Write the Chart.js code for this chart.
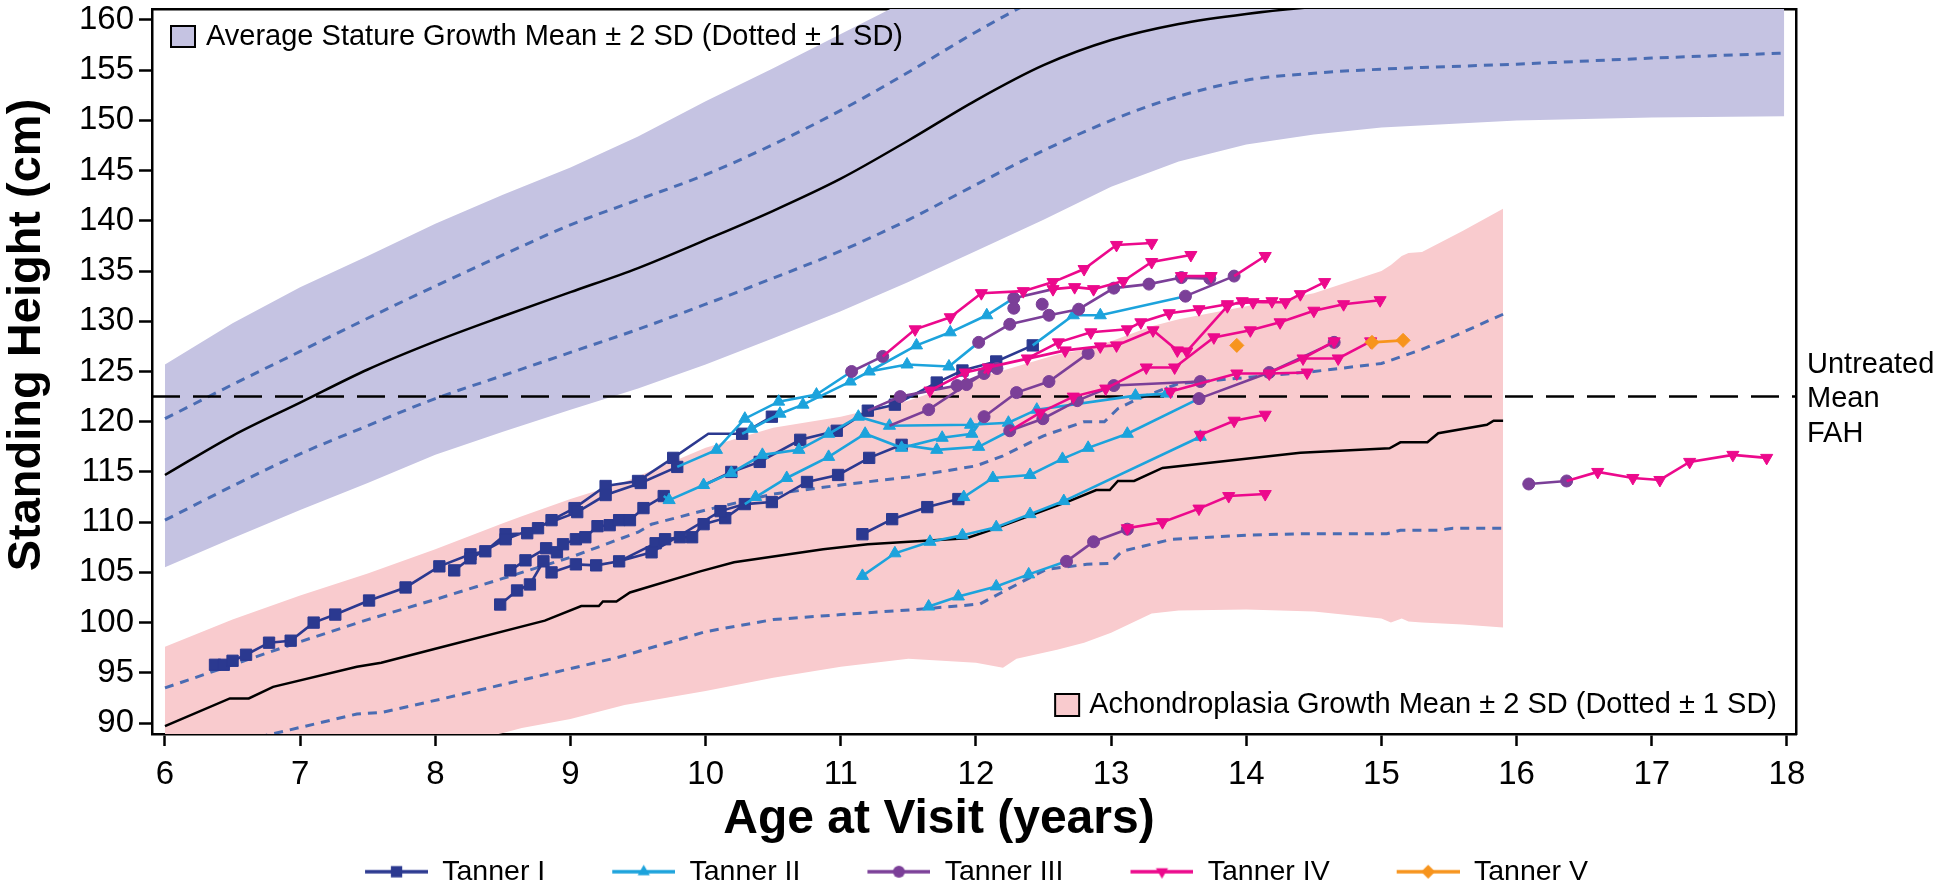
<!DOCTYPE html>
<html>
<head>
<meta charset="utf-8">
<script src="https://cdn.jsdelivr.net/npm/chart.js@4.4.1/dist/chart.umd.min.js"></script>
<style>
  html, body { margin: 0; padding: 0; background: #fff; }
</style>
</head>
<body>
<canvas id="growth" width="1939" height="890"></canvas>
<script>
// ---------- axes ----------
const xMin = 5.904, xMax = 18.067;
const yMin = 88.91, yMax = 161.09;
const xTicks = [6, 7, 8, 9, 10, 11, 12, 13, 14, 15, 16, 17, 18];
const yTicks = [90, 95, 100, 105, 110, 115, 120, 125, 130, 135, 140, 145, 150, 155, 160];
const fahHeight = 122.5;

// ---------- average stature reference (mean, +-1 SD, +-2 SD) ----------
const avgAge   = [6, 6.5, 7, 7.5, 8, 8.5, 9, 9.5, 10, 10.5, 11, 11.5, 12, 12.5, 13, 13.5, 14, 14.5, 15, 16, 17, 17.98];
const avgHigh2 = [125.7, 129.8, 133.4, 136.5, 139.7, 142.6, 145.3, 148.4, 151.9, 155.2, 158.6, 162.0, 165.0, 167.8, 169.7, 171.0, 172.0, 172.5, 173.0, 173.3, 173.5, 173.5];
const avgHigh1 = [120.3, 123.7, 127.0, 130.3, 133.5, 136.6, 139.6, 142.1, 144.6, 147.6, 151.0, 154.8, 158.8, 162.4, 165.2, 167.0, 168.2, 168.9, 169.3, 169.7, 169.9, 170.0];
const avgMean  = [114.7, 118.6, 121.9, 125.2, 128.0, 130.5, 132.9, 135.3, 138.1, 141.0, 144.2, 148.0, 152.0, 155.5, 158.0, 159.6, 160.6, 161.3, 161.8, 162.4, 162.7, 162.8];
const avgLow1  = [110.2, 113.6, 116.8, 119.6, 122.3, 124.6, 126.9, 129.2, 131.7, 134.3, 137.0, 140.1, 143.6, 147.0, 150.0, 152.4, 154.0, 154.7, 155.1, 155.6, 156.2, 156.7];
const avgLow2  = [105.5, 108.4, 111.2, 113.9, 116.7, 119.0, 121.2, 123.3, 125.7, 128.3, 131.0, 133.9, 137.0, 140.1, 143.4, 145.9, 147.6, 148.6, 149.3, 150.0, 150.3, 150.4];

// ---------- achondroplasia reference ----------
const achBandAge = [6, 6.5, 7, 7.5, 8, 8.5, 8.64, 9, 9.4, 10, 10.5, 11, 11.5, 12, 12.2, 12.3, 12.6, 12.8, 13, 13.3, 13.5, 14, 14.5, 15, 15.07, 15.15, 15.2, 15.3, 15.6, 15.9];
const achHigh2 = [97.6, 100.3, 102.7, 104.9, 107.3, 109.9, 110.6, 112.3, 114.0, 117.4, 119.4, 120.5, 122.1, 124.4, 125.1, 125.5, 126.7, 127.2, 128.0, 129.5, 130.2, 131.5, 132.8, 135.0, 135.6, 136.5, 136.8, 136.9, 139.0, 141.2];
const achLow2  = [82.0, 83.5, 85.0, 86.3, 87.6, 89.0, 89.5, 90.4, 91.8, 93.2, 94.5, 95.6, 96.4, 96.0, 95.5, 96.4, 97.3, 98.0, 99.0, 100.9, 101.2, 101.3, 101.1, 100.4, 100.0, 100.4, 100.1, 100.0, 99.8, 99.5];
const achMeanAge = [6, 6.48, 6.62, 6.8, 7.42, 7.6, 8.0, 8.81, 9.08, 9.21, 9.24, 9.34, 9.44, 9.96, 10.21, 10.87, 11.2, 11.93, 12.13, 12.69, 12.89, 12.99, 13.05, 13.17, 13.38, 14.4, 15.06, 15.14, 15.34, 15.42, 15.78, 15.83, 15.9];
const achMean    = [89.7, 92.45, 92.45, 93.6, 95.6, 96.0, 97.4, 100.2, 101.65, 101.65, 102.1, 102.1, 103.0, 105.1, 106.0, 107.3, 107.8, 108.4, 109.3, 112.1, 113.2, 113.2, 114.1, 114.1, 115.4, 116.9, 117.35, 117.95, 117.95, 118.85, 119.7, 120.1, 120.1];
const achHigh1Age = [6, 6.5, 7, 7.5, 8, 8.5, 9, 9.5, 9.6, 10, 10.5, 11, 11.5, 12, 12.2, 12.5, 12.8, 12.95, 13.05, 13.2, 13.5, 14, 14.5, 15, 15.3, 15.55, 15.9];
const achHigh1    = [93.5, 95.8, 98.1, 100.3, 102.3, 104.4, 106.5, 109.0, 109.8, 111.2, 112.8, 113.7, 114.5, 115.6, 116.6, 118.6, 120.0, 120.0, 121.3, 122.3, 123.8, 124.4, 125.0, 125.8, 127.2, 128.6, 130.7];
const achLow1Age = [6, 6.79, 7.42, 7.6, 8.08, 9.34, 9.47, 10, 10.5, 11, 11.6, 12.03, 12.19, 12.36, 12.52, 12.82, 12.99, 13.08, 13.45, 14, 14.4, 15.04, 15.14, 15.43, 15.53, 15.9];
const achLow1    = [86.5, 88.9, 90.9, 91.05, 92.5, 96.5, 97.0, 99.1, 100.3, 100.8, 101.35, 101.85, 103.0, 104.2, 105.3, 105.8, 105.9, 107.1, 108.3, 108.7, 108.85, 108.85, 109.2, 109.2, 109.4, 109.4];

// ---------- patient visits, one list per Tanner stage ----------
// [age, height] ; a third value 0 = joining point carried over from the previous stage (no marker)
const tannerLabels = ['Tanner I', 'Tanner II', 'Tanner III', 'Tanner IV', 'Tanner V'];

const tanner1 = [
  [[6.37,95.8],[6.435,95.8],[6.5,96.2],[6.6,96.8],[6.77,98.0],[6.93,98.2],[7.1,100.0],[7.26,100.8],[7.51,102.2],[7.78,103.5],[8.03,105.6],[8.26,106.8],[8.37,107.1],[8.52,108.8],[8.68,108.9],[8.76,109.4],[8.86,110.2],[9.03,111.4],[9.26,113.6],[9.5,114.1],[9.76,116.4],[10.02,118.8,0],[10.23,118.8,0],[10.27,118.8],[10.49,120.5]],
  [[8.14,105.2],[8.26,106.4],[8.52,108.3],[9.05,111.0],[9.26,112.7],[9.52,113.9],[9.79,115.5]],
  [[8.555,105.2],[8.667,106.2],[8.82,107.4],[8.9,107.0],[8.945,107.8],[9.04,108.3],[9.11,108.5],[9.2,109.6],[9.29,109.7],[9.36,110.2],[9.44,110.2],[9.54,111.4],[9.69,112.6]],
  [[8.48,101.8],[8.605,103.2],[8.7,103.8],[8.8,106.1],[8.86,105.0],[9.04,105.8],[9.19,105.7],[9.36,106.1],[9.63,107.9],[9.7,108.3],[9.81,108.5],[9.9,108.5],[9.985,109.8],[10.145,110.4],[10.29,111.8],[10.49,112.0],[10.75,114.0],[10.98,114.7],[11.21,116.4],[11.45,117.7]],
  [[9.36,106.1,0],[9.6,107.0],[10.11,111.1],[10.29,111.8,0]],
  [[9.99,113.7,0],[10.19,115.0],[10.4,116.0],[10.7,118.2],[10.97,119.1],[11.2,121.1],[11.4,121.7],[11.71,123.9],[11.9,125.1],[12.15,126.0],[12.42,127.6]],
  [[11.16,108.8],[11.38,110.3],[11.64,111.5],[11.87,112.3]]
];
const tanner2 = [
  [[9.79,115.5,0],[10.08,117.2],[10.29,120.3],[10.54,122.0],[10.82,122.7],[11.08,125.0,0]],
  [[10.27,118.8,0],[10.34,119.3],[10.55,120.8],[10.72,121.7],[11.07,124.0],[11.21,125.0],[11.56,127.6],[11.81,128.9],[12.08,130.6],[12.28,132.3,0]],
  [[11.21,125.0,0],[11.49,125.7],[11.8,125.5],[12.02,127.9,0]],
  [[9.69,112.6,0],[9.73,112.2],[9.985,113.7],[10.19,114.9],[10.42,116.7],[10.69,117.2],[10.91,118.8],[11.13,120.5],[11.36,119.6],[11.96,119.7],[12.24,119.9],[12.45,121.2],[13.18,122.6],[13.41,122.8]],
  [[10.29,111.8,0],[10.37,112.5],[10.6,114.4],[10.91,116.5],[11.18,118.8],[11.45,117.4],[11.75,118.4],[11.97,118.8],[12.06,120.5,0]],
  [[11.45,117.7,0],[11.71,117.2],[12.02,117.5],[12.25,119.1,0]],
  [[11.87,112.3,0],[11.91,112.5],[12.125,114.4],[12.4,114.7],[12.64,116.3],[12.83,117.4],[13.12,118.8],[13.65,122.3,0]],
  [[11.16,104.65],[11.4,106.9],[11.66,108.05],[11.9,108.7],[12.15,109.5],[12.4,110.8],[12.65,112.1],[13.66,118.5]],
  [[11.65,101.6],[11.87,102.6],[12.15,103.6],[12.39,104.8],[12.67,106.1,0]],
  [[12.42,127.6,0],[12.72,130.6],[12.92,130.6],[13.55,132.5,0]]
];
const tanner3 = [
  [[11.08,125.0],[11.31,126.5]],
  [[12.02,127.9],[12.25,129.7],[12.54,130.6],[12.76,131.2],[13.02,133.3],[13.28,133.7],[13.52,134.35],[13.73,134.25]],
  [[12.28,132.3],[12.57,133.2,0]],
  [[12.28,131.3]],
  [[12.49,131.7]],
  [[11.2,121.1,0],[11.44,122.5],[11.86,123.6],[12.155,125.3]],
  [[11.36,119.6,0],[11.65,121.2],[11.93,123.7],[12.06,124.8]],
  [[12.06,120.5],[12.3,122.9],[12.54,124.0],[12.83,126.8]],
  [[12.25,119.1],[12.495,120.3],[12.75,122.1],[13.02,123.6],[13.66,124.0]],
  [[12.67,106.1],[12.87,108.05],[13.12,109.3]],
  [[13.65,122.3],[14.17,124.9],[14.65,127.9]],
  [[13.55,132.5],[13.91,134.5]],
  [[16.09,113.8],[16.37,114.1]]
];
const tanner4 = [
  [[11.31,126.5,0],[11.55,129.2],[11.81,130.4],[12.04,132.8],[12.35,133.0],[12.57,133.9],[12.8,135.2],[13.04,137.6],[13.3,137.8]],
  [[12.57,133.2],[12.73,133.4],[12.87,133.2],[13.09,134.0],[13.3,135.9],[13.59,136.6]],
  [[13.52,134.5],[13.74,134.5]],
  [[13.91,134.5,0],[14.14,136.5]],
  [[11.66,123.1],[11.92,124.9],[12.38,126.3],[12.61,127.9],[12.85,128.9],[13.12,129.2],[13.22,129.9],[13.43,130.8],[13.65,131.2],[13.86,131.7],[14.05,131.9],[14.29,131.9],[14.4,132.7],[14.58,133.9]],
  [[12.06,124.8,0],[12.09,125.4],[12.66,127.1],[12.92,127.5],[13.04,127.6],[13.31,129.1],[13.49,127.1],[13.56,127.0],[13.86,131.5],[13.97,132.0],[14.19,132.0]],
  [[12.25,119.1,0],[12.475,120.9],[12.72,122.5],[12.96,123.3],[13.26,125.4],[13.47,125.4],[13.76,128.4],[14.03,129.1],[14.25,129.9],[14.5,131.05],[14.72,131.7],[14.99,132.1]],
  [[13.41,122.8,0],[13.44,123.0],[13.93,124.8],[14.17,124.8],[14.45,124.9]],
  [[13.66,118.5,0],[13.66,118.7],[13.91,120.1],[14.14,120.7]],
  [[13.12,109.3,0],[13.12,109.4],[13.38,110.0],[13.65,111.35],[13.87,112.6],[14.14,112.8]],
  [[14.17,124.9,0],[14.42,126.3],[14.65,128.0]],
  [[14.42,126.3,0],[14.68,126.3],[14.92,128.0]],
  [[16.37,114.1,0],[16.6,115.0],[16.86,114.4],[17.06,114.2],[17.28,116.0],[17.6,116.7],[17.85,116.4]]
];
const tanner5 = [
  [[13.93,127.6]],
  [[14.92,128.0,0],[14.93,127.9],[15.16,128.1]]
];

// ---------- styles ----------
const FONT = "'Liberation Sans', Arial, Helvetica, sans-serif";
const lavender = '#c5c3e2';
const pink = '#f9cbce';
const sdBlue = '#4a6cb3';
const tannerColors = ['#2b3990', '#1ca3dc', '#7b3f98', '#ec098c', '#f7941d'];
const tannerStyles = ['rect', 'triangle', 'circle', 'triangle', 'rectRot'];
const tannerRotation = [0, 0, 0, 180, 0];
const tannerRadius = [8, 7, 6, 7, 7];

Chart.defaults.font.family = FONT;
Chart.defaults.color = '#000';

function xy(xs, ys) { return xs.map((x, i) => ({ x: x, y: ys[i] })); }

function joinTracks(list) {
  const pts = [];
  list.forEach((track, i) => {
    if (i > 0) pts.push({ x: track[0][0], y: null });
    track.forEach(p => pts.push({ x: p[0], y: p[1], joint: p[2] === 0 }));
  });
  return pts;
}

function band(data, fill, color) {
  return { data: data, fill: fill, backgroundColor: color, borderWidth: 0, pointRadius: 0, order: 20 };
}
function curve(data, dashed, smooth) {
  return {
    data: data, fill: false, pointRadius: 0, order: 10,
    borderColor: dashed ? sdBlue : '#000', borderWidth: dashed ? 3 : 2.5,
    borderDash: dashed ? [9, 7] : [], cubicInterpolationMode: smooth ? 'monotone' : 'default'
  };
}

const stageSets = [tanner1, tanner2, tanner3, tanner4, tanner5].map((list, i) => ({
  label: tannerLabels[i],
  data: joinTracks(list),
  borderColor: tannerColors[i],
  backgroundColor: tannerColors[i],
  borderWidth: 2.6,
  pointStyle: tannerStyles[i],
  rotation: tannerRotation[i],
  pointBorderWidth: 1,
  pointRadius: c => (c.raw && c.raw.joint) ? 0 : tannerRadius[i],
  fill: false,
  spanGaps: false,
  order: 4 - i
}));

// legend glyph: line with the stage marker in its middle
function drawMarker(g, style, x, y, r, rot) {
  g.beginPath();
  if (style === 'rect') {
    const s = r * Math.SQRT2;
    g.rect(x - s / 2, y - s / 2, s, s);
  } else if (style === 'circle') {
    g.arc(x, y, r, 0, Math.PI * 2);
  } else if (style === 'rectRot') {
    g.moveTo(x, y - r); g.lineTo(x + r, y); g.lineTo(x, y + r); g.lineTo(x - r, y);
  } else {
    const a0 = rot * Math.PI / 180;
    for (let k = 0; k < 3; k++) {
      const a = a0 + k * 2 * Math.PI / 3;
      const px = x + Math.sin(a) * r, py = y - Math.cos(a) * r;
      if (k === 0) g.moveTo(px, py); else g.lineTo(px, py);
    }
  }
  g.closePath();
  g.fill();
}
const legendIcons = tannerColors.map((c, i) => {
  const cv = document.createElement('canvas');
  cv.width = 130; cv.height = 28;
  const g = cv.getContext('2d');
  g.strokeStyle = c; g.fillStyle = c; g.lineWidth = 3.5;
  g.beginPath(); g.moveTo(67, 14); g.lineTo(130, 14); g.stroke();
  drawMarker(g, tannerStyles[i], 98.5, 14, tannerRadius[i], tannerRotation[i]);
  return cv;
});

// axis titles, in-plot keys for the two reference bands and the FAH label
const bandNotes = {
  id: 'bandNotes',
  afterDatasetsDraw(chart) {
    const { ctx, chartArea: a, scales: { y } } = chart;
    ctx.save();
    ctx.font = '29px ' + FONT;
    ctx.textBaseline = 'middle';
    ctx.lineWidth = 2;
    ctx.strokeStyle = '#000';

    ctx.fillStyle = lavender;
    ctx.fillRect(a.left + 19, a.top + 17, 24, 21);
    ctx.strokeRect(a.left + 19, a.top + 17, 24, 21);
    ctx.fillStyle = '#000';
    ctx.textAlign = 'left';
    ctx.fillText('Average Stature Growth Mean \u00B1 2 SD (Dotted \u00B1 1 SD)', a.left + 54, a.top + 28);

    const t2 = 'Achondroplasia Growth Mean \u00B1 2 SD (Dotted \u00B1 1 SD)';
    const w2 = ctx.measureText(t2).width;
    const x2 = a.right - 19 - w2;
    const yc = a.bottom - 29;
    ctx.fillStyle = pink;
    ctx.fillRect(x2 - 34, yc - 11, 24, 22);
    ctx.strokeRect(x2 - 34, yc - 11, 24, 22);
    ctx.fillStyle = '#000';
    ctx.fillText(t2, x2, yc);

    const yf = y.getPixelForValue(fahHeight);
    ['Untreated', 'Mean', 'FAH'].forEach((s, k) => ctx.fillText(s, a.right + 11, yf - 32 + k * 34.5));
    ctx.restore();
  },
  afterDraw(chart) {
    const { ctx } = chart;
    ctx.save();
    ctx.fillStyle = '#000';
    ctx.font = 'bold 48px ' + FONT;
    ctx.textAlign = 'center';
    ctx.textBaseline = 'alphabetic';
    ctx.fillText('Age at Visit (years)', 939, 833);
    ctx.font = 'bold 47px ' + FONT;
    ctx.textBaseline = 'middle';
    ctx.translate(27, 335);
    ctx.rotate(-Math.PI / 2);
    ctx.fillText('Standing Height (cm)', 0, 0);
    ctx.restore();
  }
};

new Chart(document.getElementById('growth'), {
  type: 'line',
  data: {
    datasets: [
      band(xy(avgAge, avgLow2), '+1', lavender),
      band(xy(avgAge, avgHigh2), false, lavender),
      band(xy(achBandAge, achLow2), '+1', pink),
      band(xy(achBandAge, achHigh2), false, pink),
      curve(xy(avgAge, avgMean), false, true),
      curve(xy(avgAge, avgHigh1), true, true),
      curve(xy(avgAge, avgLow1), true, true),
      curve(xy(achMeanAge, achMean), false, false),
      curve(xy(achHigh1Age, achHigh1), true, false),
      curve(xy(achLow1Age, achLow1), true, false),
      {
        data: [{ x: xMin, y: fahHeight }, { x: xMax, y: fahHeight }],
        borderColor: '#000', borderWidth: 2.5, borderDash: [28, 13],
        pointRadius: 0, fill: false, order: 8
      },
      ...stageSets
    ]
  },
  options: {
    responsive: false,
    animation: false,
    events: [],
    layout: { padding: { right: 53 } },
    plugins: {
      tooltip: { enabled: false },
      legend: {
        position: 'bottom',
        maxHeight: 32.5,
        labels: {
          usePointStyle: true,
          pointStyleWidth: 130,
          padding: 0,
          color: '#000',
          font: { size: 28.5 },
          generateLabels: () => tannerLabels.map((text, i) => ({
            text: text, pointStyle: legendIcons[i], fillStyle: tannerColors[i],
            strokeStyle: tannerColors[i], lineWidth: 0, hidden: false, datasetIndex: 11 + i, fontColor: '#000'
          }))
        }
      }
    },
    scales: {
      x: {
        type: 'linear', min: xMin, max: xMax,
        afterBuildTicks: s => { s.ticks = xTicks.map(v => ({ value: v })); },
        ticks: { font: { size: 33 }, color: '#000', padding: 9, maxRotation: 0, autoSkip: false },
        grid: { drawOnChartArea: false, tickLength: 12, tickWidth: 2.5, tickColor: '#000' },
        border: { color: '#000', width: 2.5 },
        afterFit: s => { s.height = 123.5; }
      },
      y: {
        type: 'linear', min: yMin, max: yMax,
        afterBuildTicks: s => { s.ticks = yTicks.map(v => ({ value: v })); },
        ticks: { font: { size: 33, lineHeight: 0.01 }, color: '#000', padding: 5, autoSkip: false },
        grid: { drawOnChartArea: false, tickLength: 13, tickWidth: 2.5, tickColor: '#000' },
        border: { color: '#000', width: 2.5 },
        afterFit: s => { s.width = 152; }
      },
      xTop: {
        type: 'linear', position: 'top',
        ticks: { display: false }, grid: { display: false },
        border: { color: '#000', width: 2.5 },
        afterFit: s => { s.height = 5; }
      },
      yRight: {
        type: 'linear', position: 'right',
        ticks: { display: false }, grid: { display: false },
        border: { color: '#000', width: 2.5 },
        afterFit: s => { s.width = 90; }
      }
    }
  },
  plugins: [bandNotes]
});
</script>
</body>
</html>
